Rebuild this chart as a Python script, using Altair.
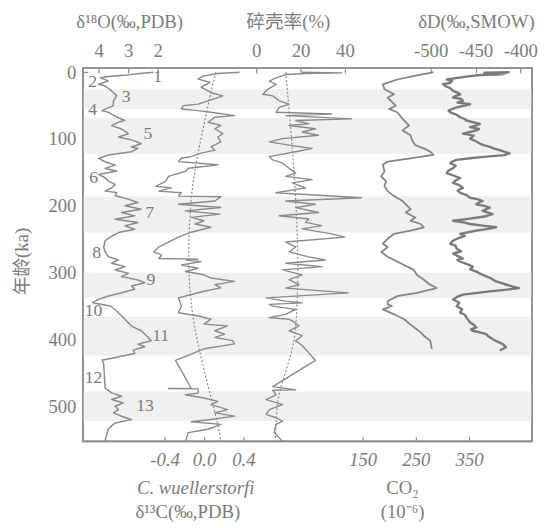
import altair as alt
import pandas as pd

# ---------------- data ----------------
band_start = [26, 68, 186, 300, 366, 478]
band_end = [55, 122, 240, 338, 424, 522]

o18_age = [
    0, 2, 4, 6, 8.4, 13, 18, 20.6, 28, 35,
    43, 50, 57.5, 60, 67, 72, 75, 80, 85, 92,
    97, 102, 107, 112, 114, 119, 124, 129, 134, 139,
    144, 148, 153, 158, 163, 168, 173, 178, 180, 185,
    190, 195, 200, 205, 210, 215, 220, 225, 230, 235,
    240, 244, 252, 262, 269, 276, 281, 286, 291, 296,
    301, 306, 311, 315, 320, 325, 330, 335, 340, 345,
    350, 357, 365, 372, 380, 387, 394, 402, 407, 411,
    416, 421, 431, 436, 473, 480, 485, 490, 495, 500,
    505, 510, 515, 520, 525, 527, 534, 547, 553]
o18_val = [
    2.15, 2.6, 3.0, 3.6, 3.94, 3.67, 4.0, 3.78, 3.56, 3.39,
    3.5, 3.5, 3.89, 3.67, 3.39, 3.11, 3.33, 3.56, 3.22, 3.0,
    3.33, 2.83, 2.56, 2.89, 2.67, 2.89, 3.67, 4.0, 3.78, 3.44,
    3.78, 3.39, 4.0, 3.78, 3.67, 3.44, 3.56, 3.78, 3.39, 3.44,
    3.0, 2.67, 3.11, 2.56, 3.22, 2.78, 3.44, 2.67, 3.11, 2.78,
    3.33, 3.5, 3.78, 3.83, 3.78, 3.67, 3.33, 3.56, 3.11, 3.44,
    3.0, 3.22, 2.67, 2.44, 2.89, 2.78, 3.22, 3.67, 4.0, 4.2,
    3.6, 3.4, 3.22, 3.06, 2.89, 2.56, 2.39, 2.22, 2.67, 2.44,
    2.83, 2.78, 3.89, 3.83, 3.78, 3.56, 3.22, 3.56, 3.17, 3.44,
    3.33, 3.5, 3.22, 2.89, 3.44, 3.5, 3.67, 3.76, 3.78]

stage_name = ["1", "2", "3", "4", "5", "6", "7", "8", "9", "10", "11", "12", "13"]
stage_o18 = [2.0, 4.2, 3.07, 4.2, 2.33, 4.17, 2.27, 4.07, 2.23, 4.17, 1.9, 4.17, 2.43]
stage_age = [8, 14.3, 37.9, 57, 92.5, 158.8, 210.5, 270.9, 310.8, 358, 394.8, 458.3, 499.5]

c13_age = [
    0, 2, 5.9, 10.1, 15.1, 22.4, 30.7, 35.4, 37.9, 42.8,
    47.7, 50.1, 55, 57.5, 60, 64.9, 67.4, 74.8, 79.7, 84.6,
    92, 96.9, 104.3, 111.6, 116.6, 121.5, 126.4, 128.8, 133.8, 138.6,
    143.7, 148.5, 155.9, 163.3, 170.7, 173.2, 178, 180.5, 185.4, 186.5,
    192.7, 197.7, 202.5, 207.5, 212.4, 217.3, 222.3, 227.2, 232.1, 239.5,
    246.9, 254.2, 261.6, 269, 273.9, 278.8, 279.8, 281.1, 283.6, 288.5,
    293.4, 298.3, 303.2, 308.1, 313.1, 318, 322.9, 327.8, 332.7, 337.7,
    350.1, 360, 364.9, 369.8, 377.1, 379.6, 387, 391.9, 396.8, 401.8,
    406.6, 414, 431.2, 473, 473.5, 474, 480.4, 482.8, 487.7, 492.6,
    497.5, 505, 509.9, 514.7, 519.8, 523.2, 527.1, 534.4, 539.4, 552.6]
c13_val = [
    0.36, 0.14, -0.01, -0.06, 0.06, -0.03, 0.07, 0.19, 0.14, 0.04,
    -0.06, -0.21, -0.23, -0.06, 0.07, 0.31, 0.11, 0.04, 0.17, 0.11,
    0.19, 0.14, 0.17, 0.07, 0.11, -0.04, -0.13, -0.23, -0.26, 0.14,
    -0.16, -0.19, -0.36, -0.39, -0.49, -0.33, -0.46, -0.23, -0.26, 0.17,
    0.11, -0.26, 0.17, -0.19, 0.16, -0.13, 0.0, -0.09, 0.07, -0.13,
    -0.26, -0.36, -0.46, -0.51, -0.43, -0.46, -0.06, -0.18, -0.03, -0.23,
    -0.06, -0.19, 0.0, 0.07, 0.31, 0.11, 0.17, 0.0, -0.13, -0.26,
    -0.23, -0.26, -0.06, 0.07, 0.0, 0.24, 0.11, 0.21, 0.11, 0.29,
    0.31, 0.0, -0.29, -0.13, -0.36, -0.06, -0.06, -0.19, 0.0, 0.14,
    0.07, 0.24, 0.11, 0.31, 0.07, -0.13, 0.17, 0.04, -0.16, -0.19]

c13_trend_age = [0, 35, 85, 134, 182, 233, 281, 340, 389, 439, 488, 525, 553]
c13_trend_val = [0.12, 0.06, -0.01, -0.08, -0.13, -0.15, -0.16, -0.14, -0.09, -0.01, 0.07, 0.14, 0.17]

frag_age = [
    0, 1, 2, 3.5, 8.4, 13.3, 18.2, 25.6, 33, 35.4,
    42.8, 47.7, 52.7, 60, 62.5, 64.9, 69.9, 72.3, 77.2, 79.7,
    84.6, 89.5, 94.4, 99.4, 104.3, 109.2, 114.1, 119, 126.4, 131.3,
    136.2, 143.7, 151, 155.9, 160.8, 165.7, 173.2, 180.5, 187.9, 192.8,
    197.7, 202.6, 210, 214.9, 219.8, 224.8, 229.6, 234.5, 241.9, 246.9,
    254.2, 261.6, 269, 276.3, 281.1, 286, 291, 295.9, 303.4, 310.6,
    318.1, 323.1, 330.2, 337.8, 342.7, 345.2, 347.5, 350.1, 355, 362.4,
    367.3, 369.8, 372.3, 379.6, 387, 394.4, 401.8, 409.1, 431.2, 470.6,
    475.5, 476, 482.8, 490.2, 497.5, 505, 512.3, 517.2, 522.2, 527.1,
    539.4, 552.6]
frag_val = [
    20.7, 38.5, 22.2, 13.3, 8.9, 5.9, 8.9, 5.2, 3.0, 7.4,
    10.4, 14.8, 10.4, 8.9, 34.1, 13.3, 43.0, 17.8, 23.7, 14.8,
    26.7, 20.7, 28.1, 11.9, 5.9, 14.8, 25.2, 17.8, 5.9, 7.4,
    11.9, 14.8, 17.8, 13.3, 25.2, 16.3, 22.2, 8.9, 47.4, 13.3,
    26.7, 17.8, 28.1, 10.4, 23.7, 22.2, 29.6, 20.7, 34.1, 40.0,
    13.3, 17.8, 14.8, 23.7, 31.1, 13.3, 29.6, 11.9, 20.7, 14.8,
    19.3, 13.3, 41.5, 4.4, 13.3, 20.7, 5.9, 7.4, 17.8, 13.3,
    5.9, 14.8, 16.3, 19.3, 14.8, 20.7, 17.8, 20.7, 26.7, 7.4,
    17.8, 7.4, 8.9, 4.4, 11.9, 5.9, 4.4, 8.9, 11.9, 8.9,
    8.1, 11.9]

frag_trend_age = [0, 85, 182, 281, 340, 389, 414, 439, 463, 488, 525, 553]
frag_trend_val = [13.3, 15.6, 17.8, 19.0, 18.5, 17.8, 16.3, 14.1, 11.9, 9.6, 8.9, 8.6]

co2_age = [
    0, 2, 3.5, 5.9, 10.9, 18.2, 25.6, 33, 37.9, 45.3,
    50.1, 55.1, 60, 69.9, 79.7, 87.1, 94.4, 101.8, 109.2, 115.1,
    119, 123.9, 128.8, 133.8, 138.6, 148.5, 155.9, 163.3, 170.6, 178,
    185.4, 192.8, 200.1, 205, 210, 217.4, 222.3, 227.2, 232.1, 237,
    241.9, 249.3, 256.7, 261.6, 269, 276.3, 281.1, 288.6, 295.9, 303.4,
    310.6, 318.1, 323.1, 330.2, 335.2, 342.7, 347.6, 350, 355, 362.4,
    369.8, 379.6, 389.4, 394.4, 401.8, 414]
co2_val = [
    283, 270, 259, 245, 215, 188, 191, 209, 197, 206,
    212, 200, 215, 225, 237, 225, 240, 243, 249, 268,
    277, 283, 240, 197, 188, 191, 185, 194, 191, 197,
    209, 225, 234, 240, 231, 249, 240, 259, 265, 240,
    209, 197, 188, 197, 185, 197, 209, 228, 246, 252,
    265, 277, 289, 252, 215, 197, 197, 205, 188, 209,
    228, 243, 259, 265, 277, 280]

dd_age = [
    0, 0.8, 1.6, 2.4, 3.2, 4.2, 5.9, 8.5, 10.9, 13,
    15.8, 18, 20.6, 24, 28, 30.5, 33, 35.4, 37.9, 40,
    42.8, 45.3, 47.7, 50.1, 52.7, 55.1, 57.5, 60, 63, 67.4,
    70, 72.3, 75, 77.2, 80, 82.2, 85, 87.1, 90, 92,
    95, 99.4, 103, 106.8, 109.2, 111.6, 114, 116.6, 119, 121.5,
    124, 126.4, 128.8, 131.3, 133.8, 136.2, 140, 143.7, 147, 151,
    155, 158.4, 162, 165.7, 169, 173.2, 177, 180.5, 184, 187.9,
    190, 192.8, 195, 197.7, 200, 202.6, 205, 207.5, 210, 212.4,
    216, 219.8, 222.3, 225, 227.2, 230, 232.1, 234.5, 237, 239.5,
    241.9, 245, 249.3, 253, 256.7, 260, 264.1, 268, 271.4, 275,
    278.8, 281, 283.7, 287, 291, 295, 298.5, 302, 305.7, 309,
    313.2, 317, 320.5, 323.1, 325.5, 328, 332.9, 336, 340.1, 345,
    350.1, 355, 359.9, 363, 367.3, 371, 374.7, 378, 382.1, 385,
    387, 389.5, 391.9, 395, 399.3, 403, 406.6, 409, 411.5, 414,
    416.5]
dd_val = [
    -412, -440, -416, -436, -420, -445, -456, -470, -482, -476,
    -478, -486, -484, -478, -475, -470, -467, -472, -475, -466,
    -464, -470, -456, -462, -471, -476, -480, -478, -472, -467,
    -462, -460, -452, -445, -450, -456, -446, -449, -458, -464,
    -452, -456, -450, -445, -441, -434, -430, -423, -418, -412,
    -418, -438, -456, -471, -476, -478, -472, -475, -480, -482,
    -474, -467, -472, -475, -468, -464, -470, -467, -460, -456,
    -448, -442, -446, -449, -440, -434, -438, -442, -436, -431,
    -440, -460, -475, -462, -456, -440, -427, -436, -449, -458,
    -467, -462, -471, -476, -478, -472, -471, -466, -475, -470,
    -464, -470, -467, -460, -453, -456, -449, -444, -438, -432,
    -427, -418, -409, -401.5, -415, -434, -464, -470, -475, -468,
    -471, -465, -467, -462, -460, -458, -456, -452, -449, -455,
    -453, -445, -438, -436, -431, -426, -420, -418, -416, -419,
    -423]

# ---------------- layout / style ----------------
W, H = 456, 379
Y_DOMAIN = [-6.3, 552.6]
FONT = "Liberation Serif, Noto Sans CJK SC"
TXT = "#7c7c7c"
LINE = "#8a8a8a"
FRAME = "#8e8e8e"
FS = 19


def xscale(v1, p1, v2, p2):
    """Linear scale so that value v1 sits at pixel p1 and v2 at p2 in the frame."""
    b = (p2 - p1) / (v2 - v1)
    a0 = v1 - p1 / b
    aw = v1 + (W - p1) / b
    return alt.Scale(domain=[min(a0, aw), max(a0, aw)], reverse=bool(b < 0),
                     zero=False, nice=False)


s_o18 = xscale(4, 16, 2, 76)
s_c13 = xscale(-0.4, 83, 0.4, 163)
s_frag = xscale(0, 176, 40, 266)
s_co2 = xscale(150, 284, 350, 392)
s_dd = xscale(-500, 353, -400, 444)

hyphen = "replace(datum.label, '\u2212', '-')"


def top_axis(values, title, tx):
    return alt.Axis(orient="top", values=values, title=title, offset=-5, tickSize=5,
                    domain=False, grid=False, labelPadding=18, labelBaseline="middle",
                    labelFlush=False, labelOverlap=False, labelExpr=hyphen,
                    titleX=tx, titleY=-52, titleBaseline="middle", titleAlign="center",
                    titleAngle=0)


def bottom_axis(values, title, tx, ty, fmt=None, italic_title=False, lh=None):
    kw = dict(orient="bottom", values=values, title=title, offset=-5, tickSize=5,
              domain=False, grid=False, labelPadding=18, labelBaseline="middle",
              labelFlush=False, labelOverlap=False, labelExpr=hyphen,
              labelFontStyle="italic",
              titleX=tx, titleY=ty, titleBaseline="middle", titleAlign="center",
              titleAngle=0)
    if fmt:
        kw["format"] = fmt
    if italic_title:
        kw["titleFontStyle"] = "italic"
    if lh:
        kw["titleLineHeight"] = lh
    return alt.Axis(**kw)


yscale = alt.Scale(domain=Y_DOMAIN, reverse=True, zero=False, nice=False)
yaxis = alt.Axis(values=[0, 100, 200, 300, 400, 500], title="年龄(ka)", offset=-5,
                 tickSize=5, domain=False, grid=False, labelPadding=7,
                 titleX=-67, titleY=196, titleAngle=-90, titleAlign="center",
                 titleBaseline="middle")


def yenc(field="age"):
    return alt.Y(f"{field}:Q", scale=yscale, axis=yaxis)


bands = alt.Chart(pd.DataFrame({"start": band_start, "end": band_end})).mark_rect(
    color="#f0f0f0").encode(y=yenc("start"), y2="end:Q")

o18 = alt.Chart(pd.DataFrame({"age": o18_age, "v": o18_val})).mark_line(
    color=LINE, strokeWidth=1.5, strokeJoin="round").encode(
    x=alt.X("v:Q", scale=s_o18, axis=top_axis([4, 3, 2], "δ¹⁸O(‰,PDB)", 47)),
    y=yenc(), order="age:Q")

stages = alt.Chart(pd.DataFrame({"age": stage_age, "v": stage_o18, "t": stage_name})).mark_text(
    color=TXT, font=FONT, fontSize=18, align="center", baseline="middle").encode(
    x=alt.X("v:Q", scale=s_o18, axis=None), y=yenc(), text="t:N")

c13 = alt.Chart(pd.DataFrame({"age": c13_age, "v": c13_val})).mark_line(
    color=LINE, strokeWidth=1.4, strokeJoin="round").encode(
    x=alt.X("v:Q", scale=s_c13,
            axis=bottom_axis([-0.4, 0.0, 0.4], "C. wuellerstorfi", 114, 52, fmt=".1f",
                             italic_title=True)),
    y=yenc(), order="age:Q")

c13t = alt.Chart(pd.DataFrame({"age": c13_trend_age, "v": c13_trend_val})).mark_line(
    color=LINE, strokeWidth=1.2, strokeDash=[2, 2], interpolate="basis").encode(
    x=alt.X("v:Q", scale=s_c13,
            axis=alt.Axis(orient="bottom", labels=False, ticks=False, domain=False,
                          grid=False, title="δ¹³C(‰,PDB)", offset=-5, titleX=106,
                          titleY=76, titleBaseline="middle", titleAlign="center")),
    y=yenc(), order="age:Q")

frag = alt.Chart(pd.DataFrame({"age": frag_age, "v": frag_val})).mark_line(
    color=LINE, strokeWidth=1.4, strokeJoin="round").encode(
    x=alt.X("v:Q", scale=s_frag, axis=top_axis([0, 20, 40], "碎壳率(%)", 208)),
    y=yenc(), order="age:Q")

fragt = alt.Chart(pd.DataFrame({"age": frag_trend_age, "v": frag_trend_val})).mark_line(
    color=LINE, strokeWidth=1.2, strokeDash=[2, 2], interpolate="basis").encode(
    x=alt.X("v:Q", scale=s_frag, axis=None), y=yenc(), order="age:Q")

co2 = alt.Chart(pd.DataFrame({"age": co2_age, "v": co2_val})).mark_line(
    color="#858585", strokeWidth=1.8, strokeJoin="round").encode(
    x=alt.X("v:Q", scale=s_co2,
            axis=bottom_axis([150, 250, 350], ["CO₂", "(10⁻⁶)"], 324, 52, lh=24)),
    y=yenc(), order="age:Q")

dd = alt.Chart(pd.DataFrame({"age": dd_age, "v": dd_val})).mark_line(
    color="#7a7a7a", strokeWidth=2.4, strokeJoin="round").encode(
    x=alt.X("v:Q", scale=s_dd, axis=top_axis([-500, -450, -400], "δD(‰,SMOW)", 399)),
    y=yenc(), order="age:Q")

# plot frame: horizontal rules at both ends of the age domain (full width),
# vertical rules at both ends of the δ18O scale (full height)
o18_ends = [s_o18.domain[0], s_o18.domain[1]]
frame_h = alt.Chart(pd.DataFrame({"age": Y_DOMAIN})).mark_rule(
    color=FRAME, strokeWidth=1.7).encode(y=yenc())
frame_v = alt.Chart(pd.DataFrame({"v": o18_ends})).mark_rule(
    color=FRAME, strokeWidth=1.7).encode(x=alt.X("v:Q", scale=s_o18, axis=None))

chart = alt.layer(bands, o18, stages, c13, c13t, frag, fragt, co2, dd,
                  frame_h, frame_v).resolve_scale(x="independent").properties(
    width=W, height=H,
    autosize=alt.AutoSizeParams(type="none"),
    padding={"left": 76, "top": 57, "right": 8, "bottom": 84},
    background="white",
).configure_view(stroke=FRAME, strokeWidth=1.7).configure_axis(
    labelFont=FONT, titleFont=FONT, labelColor=TXT, titleColor=TXT,
    tickColor=FRAME, tickWidth=1.2, labelFontSize=FS, titleFontSize=FS,
    titleFontWeight="normal", grid=False, domain=False)

chart.save("out.html", embed_options={"renderer": "svg", "actions": False})
